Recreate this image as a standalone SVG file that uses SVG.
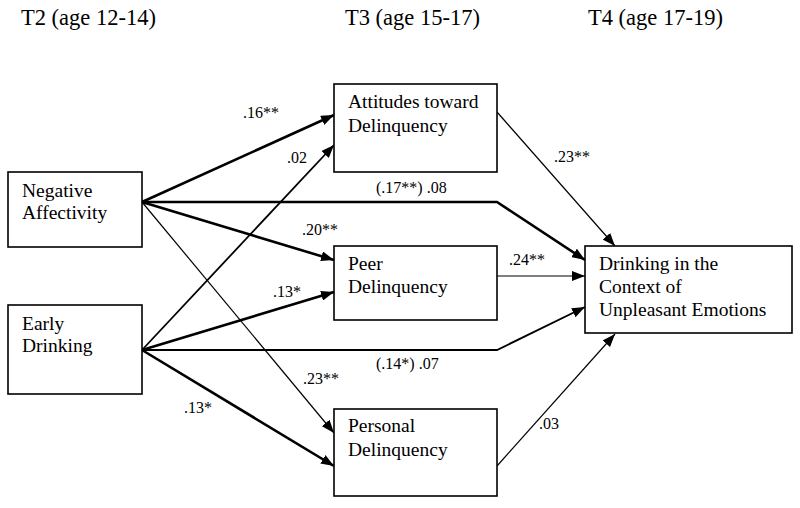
<svg xmlns="http://www.w3.org/2000/svg" width="800" height="508" viewBox="0 0 800 508">
<style>
.box{fill:#fff;stroke:#000;stroke-width:1.6}
.t{font-family:"Liberation Serif","Times New Roman",serif;font-size:19.5px;fill:#000}
.h{font-family:"Liberation Serif","Times New Roman",serif;font-size:22.5px;fill:#000}
.l{font-family:"Liberation Serif","Times New Roman",serif;font-size:16px;fill:#000}
.c{fill:none;stroke:#000;marker-end:url(#ah)}
.k{stroke-width:2.6}
.m{stroke-width:1.8}
.n{stroke-width:1.2}
</style>
<defs>
<marker id="ah" markerUnits="userSpaceOnUse" markerWidth="13" markerHeight="10" refX="13" refY="5" orient="auto">
<path d="M0,0 L13,5 L0,10 z" fill="#000"/>
</marker>
</defs>
<rect width="800" height="508" fill="#fff"/>
<g id="headers">
<text class="h" x="21" y="25">T2 (age 12-14)</text>
<text class="h" x="345" y="25">T3 (age 15-17)</text>
<text class="h" x="588" y="25">T4 (age 17-19)</text>
</g>
<g id="connectors">
<path class="c k" d="M142,202 L334,115"/>
<path class="c m" d="M142,350 L334,145"/>
<path class="c k" d="M142,202 L497,202 L585,260"/>
<path class="c k" d="M142,202 L334,260"/>
<path class="c n" d="M142,202 L334,433"/>
<path class="c k" d="M142,350 L334,292"/>
<path class="c m" d="M142,350 L497,350 L585,307"/>
<path class="c k" d="M142,350 L334,466"/>
<path class="c n" d="M497,112 L615,246"/>
<path class="c n" d="M497,276 L585,276"/>
<path class="c n" d="M497,466 L615,334"/>
</g>
<g id="labels">
<text class="l" x="243" y="118">.16**</text>
<text class="l" x="287" y="163">.02</text>
<text class="l" x="376" y="193">(.17**) .08</text>
<text class="l" x="302" y="235">.20**</text>
<text class="l" x="273" y="297">.13*</text>
<text class="l" x="303" y="384">.23**</text>
<text class="l" x="376" y="369">(.14*) .07</text>
<text class="l" x="184" y="413">.13*</text>
<text class="l" x="554" y="162">.23**</text>
<text class="l" x="509" y="265">.24**</text>
<text class="l" x="539" y="429">.03</text>
</g>
<g id="negative-affectivity">
<rect class="box" x="8" y="172" width="134" height="75"/>
<text class="t" x="22" y="197">Negative</text>
<text class="t" x="22" y="219">Affectivity</text>
</g>
<g id="early-drinking">
<rect class="box" x="8" y="305" width="134" height="89"/>
<text class="t" x="22" y="330">Early</text>
<text class="t" x="22" y="352">Drinking</text>
</g>
<g id="attitudes">
<rect class="box" x="334" y="84" width="163" height="88"/>
<text class="t" x="348" y="108">Attitudes toward</text>
<text class="t" x="348" y="132">Delinquency</text>
</g>
<g id="peer">
<rect class="box" x="334" y="246" width="163" height="74"/>
<text class="t" x="348" y="270">Peer</text>
<text class="t" x="348" y="293">Delinquency</text>
</g>
<g id="personal">
<rect class="box" x="334" y="409" width="163" height="87"/>
<text class="t" x="348" y="432">Personal</text>
<text class="t" x="348" y="456">Delinquency</text>
</g>
<g id="drinking-context">
<rect class="box" x="585" y="246" width="207" height="87"/>
<text class="t" x="599" y="270">Drinking in the</text>
<text class="t" x="599" y="293">Context of</text>
<text class="t" x="599" y="316">Unpleasant Emotions</text>
</g>
</svg>
